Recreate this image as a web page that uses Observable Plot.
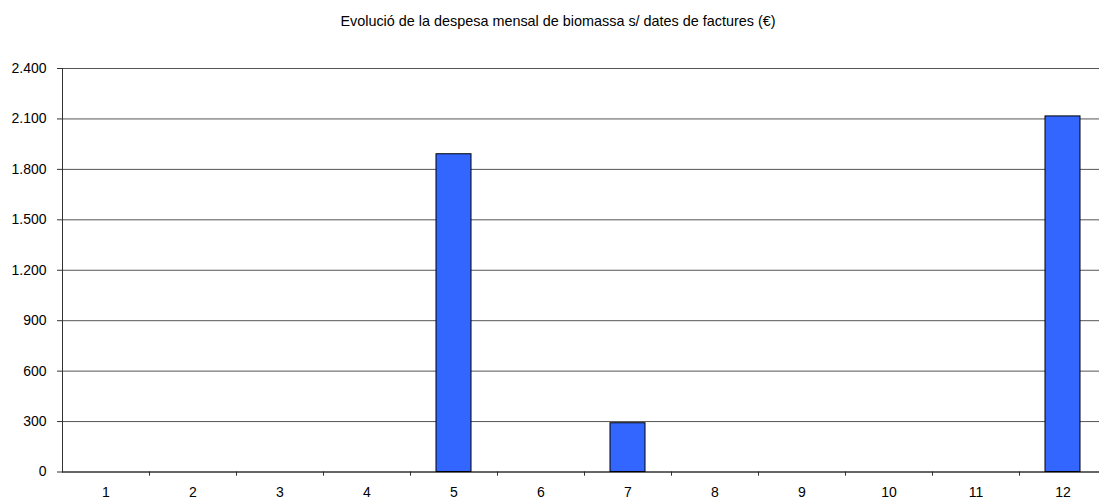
<!DOCTYPE html>
<html>
<head>
<meta charset="utf-8">
<script src="https://cdn.jsdelivr.net/npm/d3@7"></script>
<script src="https://cdn.jsdelivr.net/npm/@observablehq/plot@0.6"></script>
<style>
  html, body { margin: 0; padding: 0; background: #fff; }
  #title { height: 34px; line-height: 43px; text-align: center; padding-left: 17px; font-family: "Liberation Sans", Arial, sans-serif; font-size: 14.4px; color: #000; white-space: nowrap; overflow: visible; }
  svg { display: block; }
</style>
</head>
<body>
<div id="title">Evolució de la despesa mensal de biomassa s/ dates de factures (€)</div>
<div id="chart"></div>
<script>
const months = ["1","2","3","4","5","6","7","8","9","10","11","12"];
const spend = [0, 0, 0, 0, 1890, 0, 290, 0, 0, 0, 0, 2115];
const yTicks = [0, 300, 600, 900, 1200, 1500, 1800, 2100, 2400];

const data = months.map((m, i) => ({month: m, value: spend[i]}));
const fmt = d3.formatLocale({decimal: ",", thousands: ".", grouping: [3], currency: ["", "€"]}).format(",");

const W = 1099, H = 465;
const left = 62, rightEdge = 1106;
const step = (rightEdge - left) / months.length;

const chart = Plot.plot({
  width: W,
  height: H,
  marginLeft: left,
  marginRight: 0,
  marginTop: 34,
  marginBottom: 27.5,
  style: {fontFamily: "'Liberation Sans', Arial, sans-serif", fontSize: "14px", color: "#000", background: "#fff", overflow: "visible"},
  x: {domain: months, range: [left, rightEdge], paddingInner: 0.6, paddingOuter: 0.3, align: 0.5},
  y: {domain: [0, 2400]},
  marks: [
    Plot.ruleY(yTicks, {stroke: "#555", strokeWidth: 1}),
    Plot.frame({anchor: "left", stroke: "#333"}),
    Plot.axisY({ticks: yTicks, tickFormat: fmt, tickSize: 5, tickPadding: 11, label: null, stroke: "#333", fontSize: 14}),
    Plot.axisX({tickSize: 0, tickPadding: 15, label: null, fontSize: 14}),
    Plot.ruleX(months, {x: d => d, y1: 0, y2: -25, dx: step / 2, stroke: "#333"}),
    Plot.ruleY([0], {stroke: "#222"}),
    Plot.barY(data.filter(d => d.value > 0), {x: "month", y: "value", fill: "#3366FF", stroke: "#000", strokeWidth: 1})
  ]
});
document.getElementById("chart").appendChild(chart);
</script>
</body>
</html>
